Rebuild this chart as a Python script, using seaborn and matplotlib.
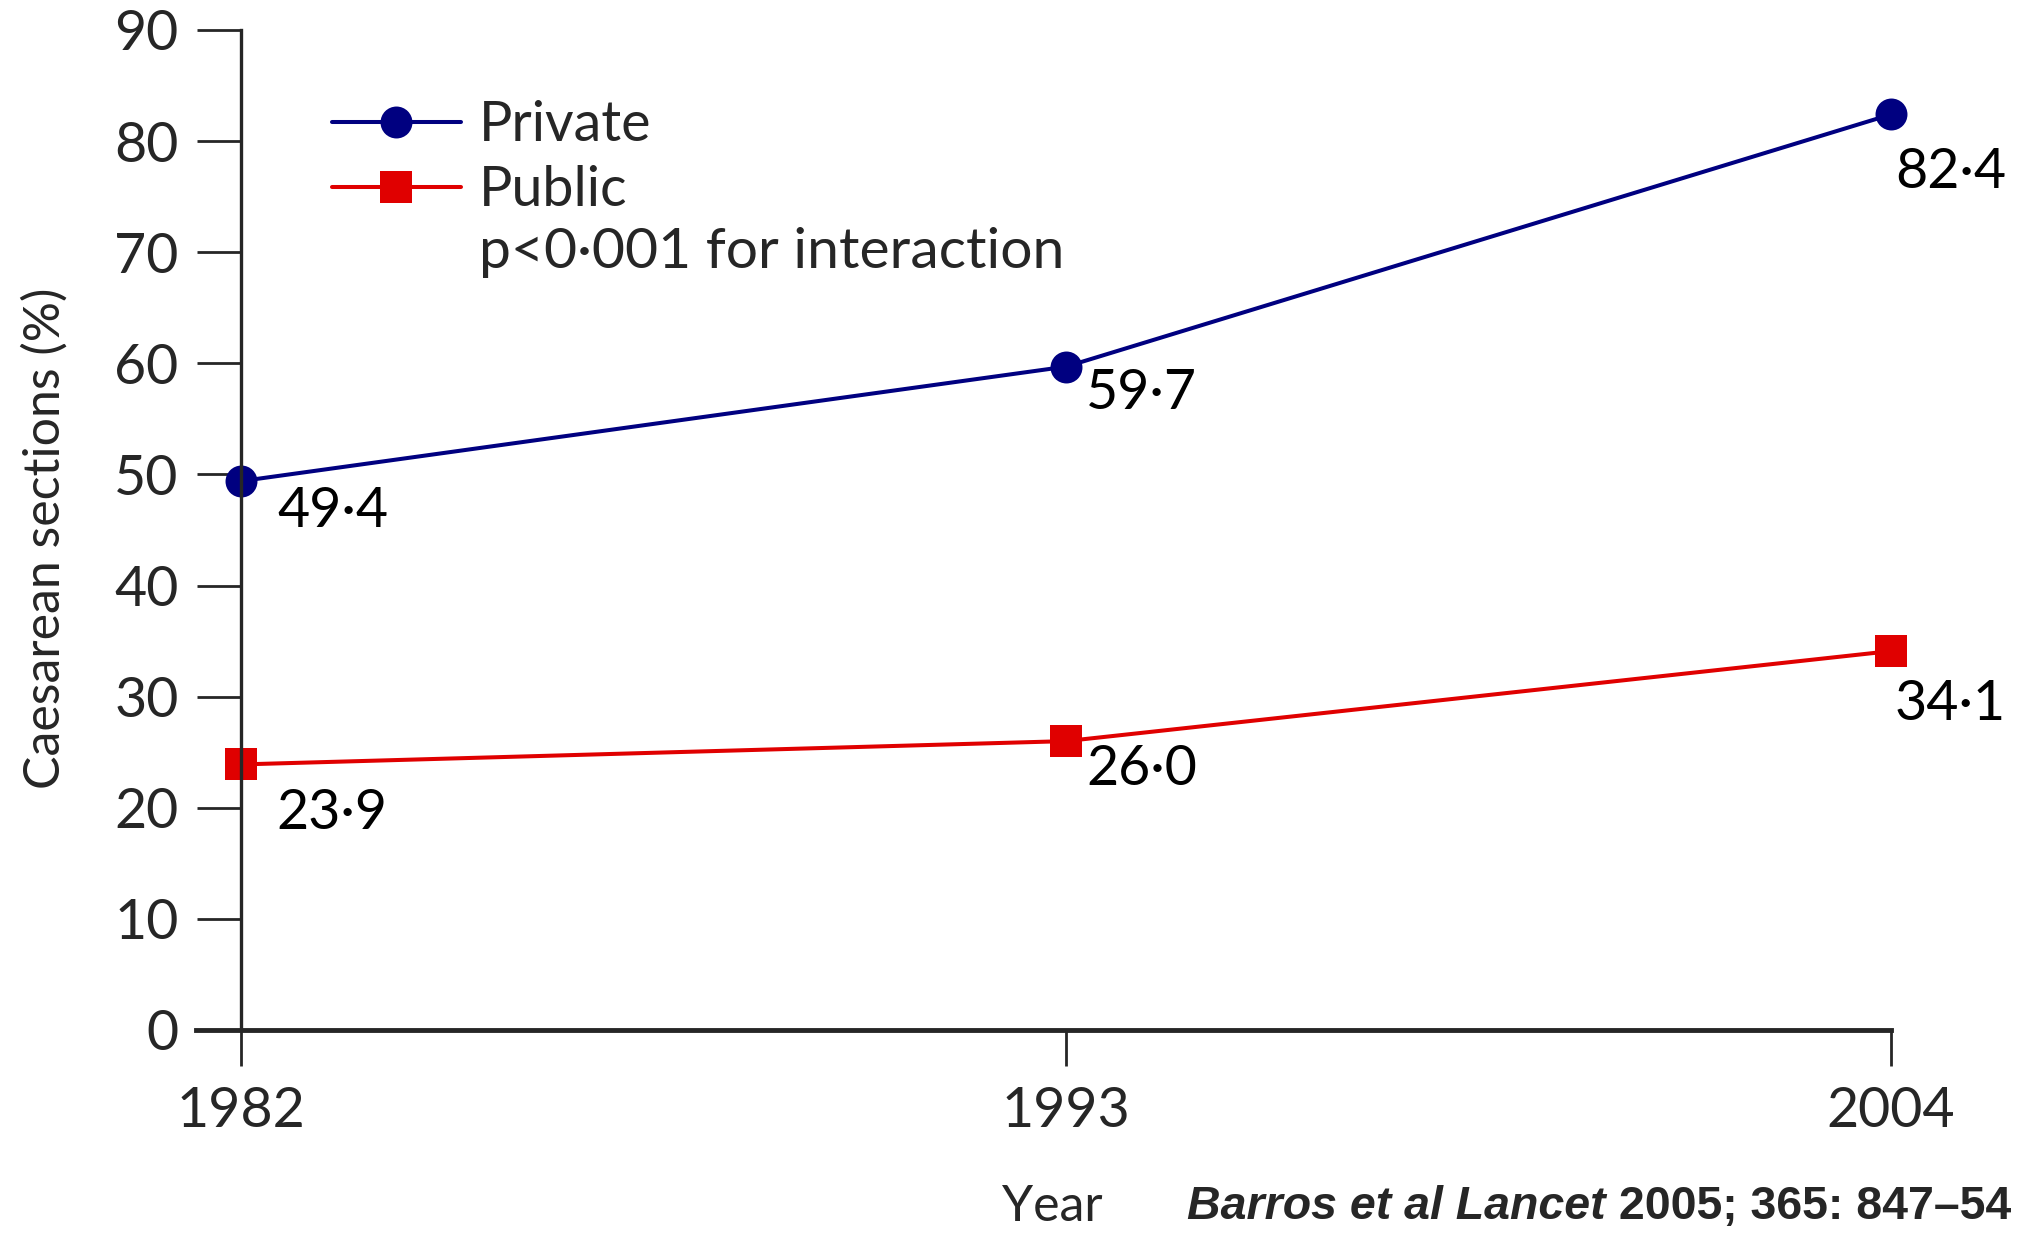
import numpy as np
import pandas as pd
import matplotlib
matplotlib.use("Agg")
import matplotlib.pyplot as plt
import seaborn as sns

# data
years = [1982, 1993, 2004]
private = [49.4, 59.7, 82.4]
public = [23.9, 26.0, 34.1]
series_names = ["Private", "Public"]
private_labels = ["49·4", "59·7", "82·4"]
public_labels = ["23·9", "26·0", "34·1"]
y_ticks = [0, 10, 20, 30, 40, 50, 60, 70, 80, 90]
note = "p<0·001 for interaction"
source_italic = "Barros et al Lancet"
source_rest = " 2005; 365: 847–54"

# label offsets in pixels (right, down)
private_offsets = [(36, 30), (20, 27), (4, 58)]
public_offsets = [(35, 49), (20, 28), (4, 53)]

sns.set_style("white")
plt.rcParams["font.family"] = ["Lato", "DejaVu Sans"]
W, H = 2018, 1233
fig = plt.figure(figsize=(W / 100, H / 100), dpi=100)
ax = fig.add_axes([196 / W, 1 - 1030 / H, 1695 / W, 1000 / H])

df = pd.DataFrame({
    "Year": years * 2,
    "value": private + public,
    "sector": [series_names[0]] * len(years) + [series_names[1]] * len(years),
})
colors = {"Private": "#000080", "Public": "#e00000"}
sns.lineplot(data=df, x="Year", y="value", hue="sector", style="sector",
             palette=colors, markers={"Private": "o", "Public": "s"},
             dashes=False, markersize=23, linewidth=2.9, markeredgewidth=0,
             legend=False, ax=ax, clip_on=False)

fs = 40
for labels, vals, offs in [(private_labels, private, private_offsets),
                           (public_labels, public, public_offsets)]:
    for lab, x, v, (dx, dy) in zip(labels, years, vals, offs):
        ax.annotate(lab, (x, v), xytext=(dx, -dy), textcoords="offset pixels",
                    ha="left", va="center", fontsize=fs, color="black")

ax.legend(handles=ax.lines[:2], labels=series_names, loc="upper left",
          bbox_to_anchor=(0.0802, 0.930), frameon=False, fontsize=fs,
          borderpad=0, borderaxespad=0, handlelength=2.32, handletextpad=0.32,
          labelspacing=0.26)
ax.text(0.167, 0.778, note, transform=ax.transAxes, ha="left", va="center",
        fontsize=41)

ax.set_xlim(1981.4, 2004)
ax.set_ylim(0, 90)
ax.set_xticks(years)
ax.set_yticks(y_ticks)
ax.set_xlabel("")
ax.set_ylabel("")
sns.despine(ax=ax)
ax.spines["left"].set_position(("data", 1982))
ax.spines["left"].set_linewidth(2.4)
ax.spines["bottom"].set_linewidth(3.5)
ax.tick_params(axis="y", direction="out", length=32, width=2, pad=13,
               labelsize=fs, left=True)
ax.tick_params(axis="x", direction="out", length=26, width=2, pad=14,
               labelsize=fs, bottom=True)

fig.text(45 / W, 1 - 538 / H, "Caesarean sections (%)", rotation=90,
         ha="center", va="center", fontsize=36)
fig.text(1052 / W, 1 - 1207 / H, "Year", ha="center", va="center", fontsize=36)

t1 = fig.text(1187 / W, 1 - 1207 / H, source_italic, ha="left", va="center",
              fontsize=33.5, fontweight="bold", fontstyle="italic",
              family=["Liberation Sans Narrow", "Liberation Sans"])
fig.canvas.draw()
bb = t1.get_window_extent()
fig.text(bb.x1 / W, 1 - 1207 / H, source_rest, ha="left", va="center",
         fontsize=33.5, fontweight="bold",
         family=["Liberation Sans Narrow", "Liberation Sans"])

fig.savefig("out.png", dpi=100)
